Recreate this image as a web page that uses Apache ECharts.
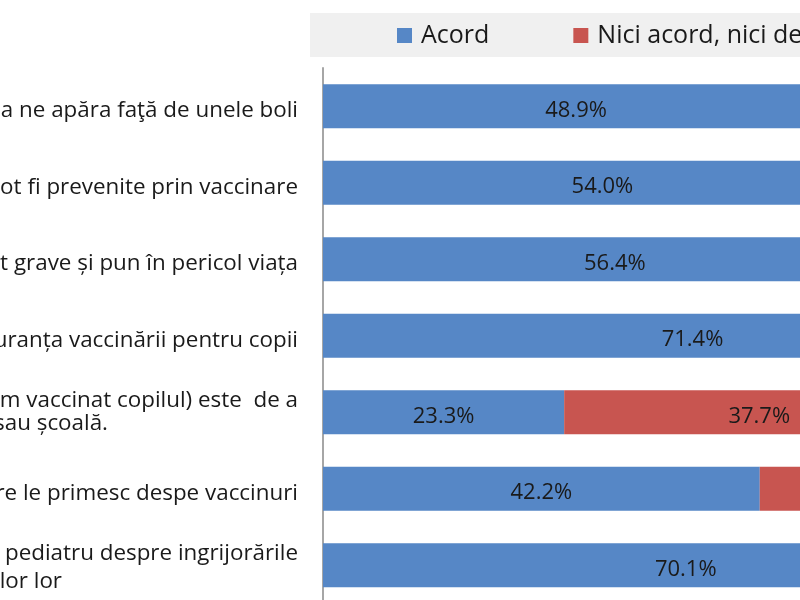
<!DOCTYPE html>
<html><head><meta charset="utf-8">
<script src="https://cdn.jsdelivr.net/npm/echarts@6/dist/echarts.min.js"></script>
<style>html,body{margin:0;padding:0;background:#fff}#c{width:800px;height:600px}</style>
</head><body><div id="c"></div>
<script>
// ---- data ----
const categories = [
  'a ne apăra faţă de unele boli',
  'ot fi prevenite prin vaccinare',
  't grave și pun în pericol viața',
  'uranța vaccinării pentru copii',
  'm vaccinat copilul) este  de a\nsau școală.',
  're le primesc despe vaccinuri',
  'pediatru despre ingrijorările\nlor lor'
];
const seriesNames = ['Acord', 'Nici acord, nici dezacord'];
const acord  = [48.9, 54.0, 56.4, 71.4, 23.3, 42.2, 70.1];
const neutru = [30.5, 28.7, 27.9, 18.6, 37.7, 35.4, 19.8]; // mostly off-picture, estimated

// ---- style ----
const FONT = 'Open Sans';
const CAT_SIZE = 22.4;
// per wrapped row: line-box heights of line 1 / line 2, right inset of line 2
const wrapStyle = {4: {h1: 14, h2: 32.6, right: 190}, 6: {h1: 24, h2: 32.6, right: 236}};
const rich = {};
Object.keys(wrapStyle).forEach(k => {
  const w = wrapStyle[k];
  rich['a' + k] = {fontFamily: FONT, fontSize: CAT_SIZE, color: '#1a1a1a', lineHeight: w.h1};
  rich['b' + k] = {fontFamily: FONT, fontSize: CAT_SIZE, color: '#1a1a1a', lineHeight: w.h2,
                   padding: [0, w.right, 0, 0]};
});

const chart = echarts.init(document.getElementById('c'));
const labelStyle = {
  show: true, position: 'inside', offset: [0, 4], fontFamily: FONT, fontSize: 22, color: '#1a1a1a',
  formatter: p => p.value.toFixed(1) + '%'
};
chart.setOption({
  animation: false,
  backgroundColor: '#ffffff',
  graphic: [{
    type: 'rect', z: -10, silent: true,
    shape: {x: 310, y: 13, width: 600, height: 44},
    style: {fill: '#f0f0f0'}
  }],
  legend: {
    left: 397, top: 23, width: 1400, padding: 0,
    itemWidth: 15, itemHeight: 15, itemGap: 84, icon: 'rect',
    textStyle: {fontFamily: FONT, fontSize: 25, lineHeight: 25, color: '#1a1a1a', padding: [0, 0, 0, 4]},
    data: seriesNames
  },
  grid: {left: 323, top: 68, width: 1035, height: 535.5, containLabel: false, outerBoundsMode: 'none'},
  xAxis: {type: 'value', min: 0, max: 100, show: false},
  yAxis: {
    type: 'category', inverse: true, data: categories,
    axisLine: {show: true, lineStyle: {color: '#a6a6a6', width: 2}},
    axisTick: {show: false},
    axisLabel: {
      margin: 25, padding: [9, 0, 0, 0], fontFamily: FONT, fontSize: CAT_SIZE, color: '#1a1a1a',
      formatter: (v, i) => {
        const parts = v.split('\n');
        if (parts.length > 1 && wrapStyle[i] !== undefined) {
          return '{a' + i + '|' + parts[0] + '}\n{b' + i + '|' + parts[1] + '}';
        }
        return v;
      },
      rich: rich
    }
  },
  series: [
    {name: seriesNames[0], type: 'bar', stack: 't', data: acord, barWidth: 44,
     itemStyle: {color: '#5687c6'}, label: labelStyle},
    {name: seriesNames[1], type: 'bar', stack: 't', data: neutru, barWidth: 44,
     itemStyle: {color: '#c85550'}, label: labelStyle}
  ]
});
</script></body></html>
